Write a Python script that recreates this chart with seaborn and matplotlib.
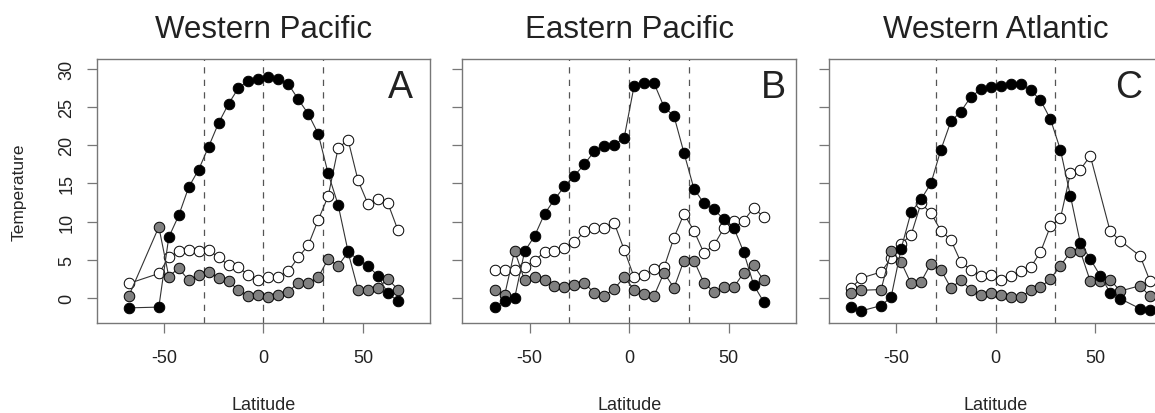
import numpy as np
import pandas as pd
import matplotlib
matplotlib.use("Agg")
import matplotlib.pyplot as plt
import seaborn as sns

nan = np.nan

# latitude bin centres shared by the three panels
lat = [-72.5, -67.5, -62.5, -57.5, -52.5, -47.5, -42.5, -37.5, -32.5, -27.5,
       -22.5, -17.5, -12.5, -7.5, -2.5, 2.5, 7.5, 12.5, 17.5, 22.5,
       27.5, 32.5, 37.5, 42.5, 47.5, 52.5, 57.5, 62.5, 67.5, 72.5, 77.5]

titles = ['Western Pacific', 'Eastern Pacific', 'Western Atlantic']
letters = ['A', 'B', 'C']

# Western Pacific
wp_black = [nan, -1.3, nan, nan, -1.2, 7.95, 10.8, 14.5, 16.8, 19.8,
            22.9, 25.4, 27.5, 28.4, 28.6, 28.9, 28.6, 28.0, 26.0, 24.1,
            21.5, 16.3, 12.2, 6.1, 5.0, 4.2, 2.9, 0.6, -0.4, nan, nan]
wp_white = [nan, 1.9, nan, nan, 3.2, 5.3, 6.1, 6.3, 6.2, 6.3,
            5.3, 4.3, 4.0, 3.0, 2.4, 2.7, 2.8, 3.5, 5.3, 6.9,
            10.2, 13.3, 19.6, 20.7, 15.4, 12.3, 12.9, 12.4, 8.9, nan, nan]
wp_gray = [nan, 0.3, nan, nan, 9.3, 2.8, 3.9, 2.3, 3.0, 3.4,
           2.6, 2.2, 1.0, 0.3, 0.4, 0.1, 0.4, 0.8, 2.0, 1.9,
           2.7, 5.1, 4.2, 6.0, 1.1, 1.1, 1.3, 2.5, 1.1, nan, nan]

# Eastern Pacific
ep_black = [nan, -1.2, -0.4, 0.0, 6.1, 8.1, 11.0, 12.9, 14.6, 16.0,
            17.5, 19.2, 19.9, 20.0, 21.0, 27.8, 28.2, 28.1, 25.0, 23.8,
            19.0, 14.3, 12.4, 11.6, 10.3, 9.2, 6.0, 1.7, -0.5, nan, nan]
ep_white = [nan, 3.6, 3.6, 3.6, 4.0, 4.9, 6.0, 6.2, 6.6, 7.3,
            8.7, 9.2, 9.2, 9.8, 6.3, 2.7, 3.0, 3.8, 4.0, 7.9,
            11.0, 8.8, 5.9, 6.9, 9.1, 10.1, 10.1, 11.8, 10.6, nan, nan]
ep_gray = [nan, 1.1, 0.4, 6.2, 2.3, 2.8, 2.4, 1.6, 1.4, 1.7,
           2.0, 0.6, 0.3, 1.2, 2.7, 1.1, 0.5, 0.3, 3.3, 1.3,
           4.9, 4.9, 2.0, 0.8, 1.4, 1.4, 3.3, 4.3, 2.3, nan, nan]

# Western Atlantic
wa_black = [-1.2, -1.7, nan, -1.0, 0.1, 6.4, 11.2, 12.9, 15.0, 19.4,
            23.1, 24.4, 26.3, 27.3, 27.6, 27.8, 28.0, 28.0, 27.2, 25.9,
            23.4, 19.4, 13.4, 7.2, 5.1, 2.9, 0.7, -0.1, nan, -1.4, -1.6]
wa_white = [1.3, 2.6, nan, 3.4, 5.2, 7.1, 8.2, 12.4, 11.1, 8.8,
            7.6, 4.7, 3.7, 2.9, 3.0, 2.4, 2.9, 3.5, 4.0, 6.0,
            9.4, 10.4, 16.3, 16.8, 18.6, nan, 8.7, 7.5, nan, 5.5, 2.2]
wa_gray = [0.7, 1.0, nan, 1.1, 6.2, 4.7, 1.9, 2.1, 4.5, 3.7,
           1.3, 2.3, 1.1, 0.35, 0.7, 0.35, 0.1, 0.1, 1.0, 1.4,
           2.5, 4.2, 6.0, 6.1, 2.2, 2.2, 2.4, 0.9, nan, 1.6, 0.2]

panels = [(wp_white, wp_gray, wp_black),
          (ep_white, ep_gray, ep_black),
          (wa_white, wa_gray, wa_black)]
faces = ['white', '#808080', 'black']

sns.set_theme(style='ticks')
plt.rcParams['font.family'] = ['Liberation Sans', 'DejaVu Sans']
plt.rcParams['text.color'] = '#222222'

fig = plt.figure(figsize=(11.55, 4.14), dpi=100)
lefts = [0.0837, 0.4004, 0.7177]
letter_x = [68.6, 72.3, 66.5]

for i, series in enumerate(panels):
    ax = fig.add_axes([lefts[i], 0.2174, 0.2887, 0.6377])
    # dashed guides at the tropics and the equator
    for x0 in [-30, 0, 30]:
        ax.axvline(x0, color='#555555', lw=0.9, linestyle=(0, (5, 5)), zorder=1)
    for vals, fc in zip(series, faces):
        df = pd.DataFrame({'lat': lat, 'temp': vals}).dropna()
        sns.lineplot(data=df, x='lat', y='temp', ax=ax, estimator=None,
                     color='#333333', lw=0.8, marker='o', markersize=7.6,
                     markerfacecolor=fc, markeredgecolor='black',
                     markeredgewidth=0.7, zorder=3)
    ax.set_xlim(-83.7, 83.7)
    ax.set_ylim(-3.28, 31.28)
    ax.set_xticks([-50, 0, 50])
    ax.set_xticklabels(['-50', '0', '50'])
    ax.set_yticks([0, 5, 10, 15, 20, 25, 30])
    ax.tick_params(axis='x', length=7.5, width=0.9, color='#777777',
                   labelsize=13, pad=11, labelcolor='#222222')
    ax.tick_params(axis='y', length=7.5, width=0.9, color='#777777',
                   labelsize=13, pad=8, labelcolor='#222222',
                   labelrotation=90)
    for lab in ax.get_yticklabels():
        lab.set_va('center')
    if i > 0:
        ax.set_yticklabels([])
        ax.set_ylabel('')
    else:
        ax.set_ylabel('Temperature', fontsize=12.5, labelpad=23)
    for sp in ax.spines.values():
        sp.set_color('#777777')
        sp.set_linewidth(1.0)
    ax.set_xlabel('Latitude', fontsize=13, labelpad=22)
    ax.set_title(titles[i], fontsize=22.5, pad=16)
    ax.text(letter_x[i], 27.6, letters[i], fontsize=27, ha='center',
            va='center', color='#222222')

fig.savefig('out.png', dpi=100)
